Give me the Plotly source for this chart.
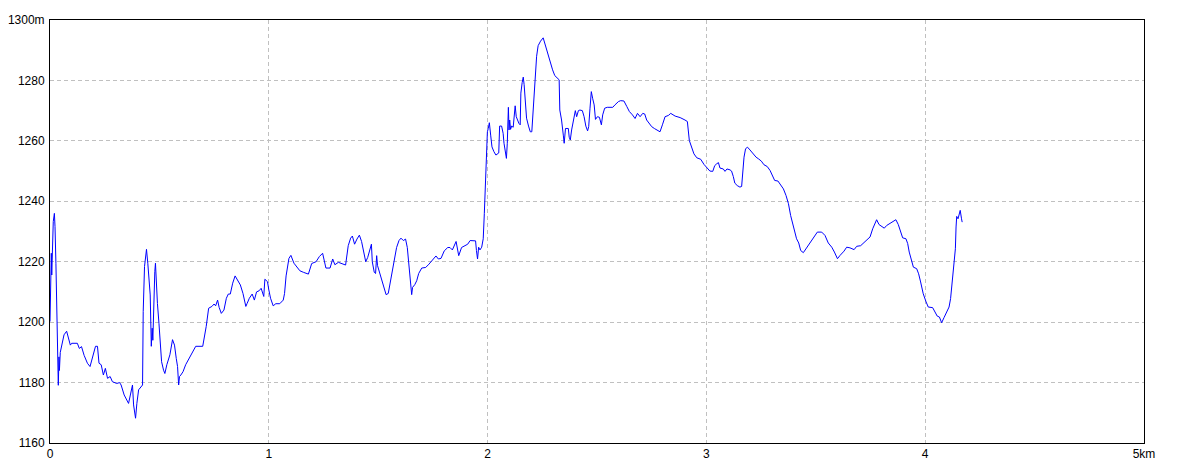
import plotly.graph_objects as go

# Distance (km) and elevation (m)
distance_km = [
    0.0, 0.003, 0.006, 0.008, 0.011, 0.015, 0.02, 0.023, 0.027, 0.032, 0.035, 0.038, 0.041, 0.043,
    0.047, 0.055, 0.064, 0.076, 0.084, 0.093, 0.099, 0.125, 0.134, 0.144, 0.156, 0.171, 0.183,
    0.198, 0.208, 0.217, 0.224, 0.234, 0.244, 0.253, 0.263, 0.275, 0.285, 0.305, 0.318, 0.325,
    0.339, 0.359, 0.374, 0.377, 0.382, 0.391, 0.397, 0.405, 0.423, 0.426, 0.432, 0.441, 0.447,
    0.453, 0.458, 0.463, 0.467, 0.47, 0.475, 0.479, 0.482, 0.487, 0.491, 0.498, 0.504, 0.51,
    0.519, 0.525, 0.534, 0.548, 0.56, 0.569, 0.577, 0.583, 0.588, 0.592, 0.598, 0.608, 0.62,
    0.635, 0.653, 0.666, 0.698, 0.705, 0.714, 0.725, 0.74, 0.75, 0.757, 0.766, 0.773, 0.783,
    0.795, 0.806, 0.815, 0.824, 0.835, 0.846, 0.861, 0.87, 0.882, 0.895, 0.901, 0.911, 0.924,
    0.934, 0.944, 0.956, 0.965, 0.974, 0.977, 0.982, 0.994, 1.0, 1.008, 1.02, 1.032, 1.05,
    1.066, 1.072, 1.079, 1.092, 1.101, 1.115, 1.142,
    1.158, 1.181, 1.196, 1.216, 1.231, 1.246, 1.261, 1.28, 1.292, 1.302, 1.318, 1.333, 1.351,
    1.363, 1.374, 1.382, 1.392, 1.403, 1.414, 1.424, 1.435, 1.443, 1.452, 1.463, 1.469, 1.473,
    1.482, 1.488, 1.493, 1.497, 1.508, 1.52, 1.536, 1.546, 1.557, 1.569, 1.584, 1.595, 1.604,
    1.615, 1.625, 1.633, 1.642, 1.648, 1.653, 1.657, 1.667, 1.676, 1.685, 1.699, 1.717, 1.732,
    1.749, 1.764, 1.775, 1.787, 1.802, 1.818, 1.828, 1.839, 1.856, 1.86, 1.868, 1.881, 1.897,
    1.909, 1.92,
    1.945, 1.949, 1.954, 1.959, 1.965, 1.973, 1.98, 1.985, 1.99, 1.994, 1.999, 2.003, 2.008,
    2.014, 2.02, 2.029, 2.038, 2.051, 2.055, 2.064, 2.071, 2.075, 2.081, 2.086, 2.09, 2.095,
    2.098, 2.101, 2.105, 2.11, 2.117, 2.122, 2.126, 2.131, 2.136, 2.143, 2.149, 2.152, 2.158,
    2.163, 2.167, 2.173, 2.178, 2.187, 2.195, 2.202, 2.207, 2.211, 2.219, 2.224, 2.231, 2.242,
    2.254, 2.263, 2.272, 2.284, 2.297, 2.307, 2.318, 2.327, 2.33, 2.338, 2.346, 2.35, 2.356,
    2.369, 2.373, 2.378, 2.384, 2.392, 2.401, 2.407, 2.415, 2.422, 2.433, 2.441, 2.449, 2.457,
    2.462, 2.468, 2.474, 2.48, 2.487, 2.493, 2.502, 2.511, 2.52, 2.526, 2.535, 2.547, 2.572,
    2.582, 2.598, 2.608, 2.623, 2.636, 2.648, 2.662, 2.674, 2.685, 2.697, 2.709, 2.718, 2.727,
    2.738, 2.75, 2.762, 2.776, 2.788, 2.799, 2.811, 2.826, 2.837, 2.857, 2.88, 2.902, 2.913,
    2.922, 2.933, 2.943, 2.956, 2.974, 2.989, 3.001, 3.016, 3.029, 3.038, 3.047, 3.055, 3.062,
    3.077, 3.085, 3.094, 3.108, 3.115, 3.123, 3.13, 3.141, 3.153, 3.161, 3.166, 3.172, 3.179,
    3.188, 3.199, 3.212, 3.227, 3.239, 3.251, 3.263, 3.278, 3.291, 3.303, 3.312, 3.327, 3.336,
    3.352, 3.364, 3.375, 3.385, 3.397, 3.406, 3.412, 3.422, 3.431, 3.443, 3.458, 3.473, 3.489,
    3.507, 3.527, 3.542, 3.557, 3.573, 3.585, 3.599, 3.611, 3.629, 3.641, 3.656, 3.675, 3.687,
    3.705, 3.725, 3.737, 3.748, 3.76, 3.778, 3.789, 3.801, 3.813, 3.824, 3.839, 3.854, 3.866,
    3.877, 3.887, 3.897, 3.912, 3.92, 3.927, 3.938, 3.946, 3.961, 3.97, 3.979, 3.991, 4.004,
    4.014, 4.034, 4.045, 4.055, 4.065, 4.075, 4.086, 4.098, 4.109, 4.116, 4.124, 4.132, 4.138,
    4.141, 4.144, 4.15, 4.156, 4.16, 4.166, 4.169,
]

elevation_m = [
    1200.2, 1215.6, 1222.8, 1215.6, 1228.3, 1233.3, 1236.0, 1231.6, 1219.5, 1205.0, 1188.5, 1179.1,
    1188.5, 1184.0, 1190.0, 1193.4, 1195.8, 1197.0, 1195.0, 1192.4, 1193.0, 1193.0, 1191.3,
    1191.9, 1189.0, 1186.4, 1185.3, 1189.2, 1192.0, 1192.0, 1186.4, 1185.9, 1182.5, 1184.7,
    1181.4, 1182.0, 1180.3, 1179.7, 1180.0, 1179.2, 1175.9, 1173.1, 1178.1, 1179.2, 1172.6,
    1168.2, 1173.1, 1177.6, 1179.2, 1203.5, 1218.4, 1224.1, 1219.5, 1213.4, 1209.0, 1192.0,
    1198.0, 1194.0, 1211.7, 1216.7, 1219.5, 1210.1, 1206.2, 1199.6, 1190.8, 1186.9, 1184.1,
    1183.0, 1185.9, 1189.2, 1194.2, 1192.4, 1188.0, 1185.3, 1179.2, 1182.0, 1182.5, 1183.6,
    1185.9, 1188.0, 1190.3, 1192.0, 1192.0, 1194.7, 1198.6, 1204.6, 1205.2, 1206.0, 1205.4,
    1207.3, 1204.9, 1202.9, 1204.0, 1207.9, 1209.3, 1209.3, 1212.9, 1215.3, 1213.6, 1212.3,
    1209.5, 1205.2, 1206.2, 1207.9, 1209.3, 1207.3, 1210.0, 1210.4, 1211.2, 1209.0, 1208.5,
    1214.2, 1213.4, 1210.7, 1207.9, 1205.4, 1206.1, 1206.1, 1207.3, 1209.5, 1215.3, 1221.1,
    1222.1, 1219.5, 1217.0,
    1216.5, 1215.9, 1219.4, 1220.0, 1221.7, 1222.8, 1217.9, 1217.9, 1220.9, 1219.0, 1219.8,
    1219.4, 1218.9, 1225.3, 1227.8, 1228.5, 1225.8, 1227.5, 1228.8, 1226.7, 1222.3, 1220.0,
    1221.4, 1224.7, 1225.8, 1220.0, 1216.5, 1216.1, 1222.0, 1218.7, 1216.1, 1213.2, 1209.1,
    1209.5, 1213.7, 1218.7, 1224.7, 1227.0, 1227.8, 1227.0, 1227.5, 1224.7, 1218.1, 1211.5,
    1209.1, 1211.5, 1212.4, 1213.7, 1216.1, 1217.9, 1218.1, 1219.2, 1220.7, 1221.9, 1220.9,
    1221.1, 1223.6, 1224.7, 1224.7, 1223.9, 1226.7, 1225.3, 1222.0, 1224.7, 1225.3, 1225.8,
    1227.0,
    1226.9, 1223.7, 1220.9, 1224.8, 1223.9, 1224.8, 1227.6, 1235.9, 1245.9, 1254.7, 1263.0,
    1264.1, 1266.0, 1261.9, 1258.0, 1256.4, 1255.3, 1256.0, 1264.9, 1264.9, 1262.5, 1259.2,
    1256.4, 1254.2, 1259.2, 1271.1, 1263.6, 1266.9, 1263.8, 1264.9, 1264.5, 1268.0, 1271.6,
    1268.0, 1266.9, 1265.8, 1265.3, 1275.8, 1279.3, 1281.1, 1278.6, 1273.0, 1267.5, 1264.9,
    1263.0, 1263.0, 1268.0, 1274.9, 1283.5, 1288.0, 1291.5, 1293.0, 1294.1, 1291.9, 1289.6,
    1286.3, 1283.5, 1281.6, 1280.8, 1280.2, 1270.2, 1266.9, 1261.9, 1259.2, 1264.1, 1264.1,
    1261.2, 1260.3, 1263.6, 1266.4, 1270.0, 1268.0, 1270.0, 1270.2, 1270.0, 1268.0, 1264.9,
    1263.3, 1264.7, 1270.8, 1276.3, 1274.1, 1271.9, 1267.1, 1268.0, 1267.8, 1265.3, 1268.6,
    1270.8, 1271.1, 1271.1, 1271.9, 1273.0, 1273.3, 1273.2, 1271.4, 1269.7, 1268.6, 1267.4,
    1269.1, 1268.0, 1269.1, 1268.9, 1266.9, 1265.8, 1264.7, 1264.1, 1263.6, 1263.0, 1265.3,
    1268.0, 1268.4, 1269.1, 1268.2, 1267.7, 1266.9, 1266.4,
    1260.1, 1257.4, 1255.7, 1254.4, 1253.9, 1252.2, 1251.1, 1250.0, 1249.9, 1251.8, 1252.4,
    1252.8, 1251.0, 1250.7, 1249.9, 1250.7, 1250.4, 1250.0, 1248.2, 1246.0, 1245.2, 1244.7,
    1244.9, 1251.3, 1254.6, 1257.4, 1257.9, 1257.0, 1255.7, 1254.6, 1254.0, 1253.3, 1252.1,
    1251.5, 1250.2, 1248.2, 1246.9, 1246.7, 1245.6, 1244.1, 1241.9, 1239.2, 1235.3, 1232.0,
    1229.3, 1227.6, 1226.2, 1223.7, 1223.0, 1224.6, 1226.5, 1228.2, 1229.8, 1229.8, 1228.7,
    1226.2, 1224.8, 1223.2, 1221.0, 1222.1, 1223.5, 1224.8, 1224.6, 1224.0, 1225.1, 1225.3,
    1226.5, 1227.3, 1228.2, 1230.9, 1233.9, 1232.3, 1231.7, 1231.1, 1232.0, 1232.6, 1233.3,
    1233.9, 1232.3, 1230.4, 1227.9, 1227.6, 1226.0, 1223.2, 1219.9, 1218.2, 1217.7, 1216.0,
    1213.3, 1209.4, 1206.7, 1205.0, 1204.8, 1203.4, 1202.0, 1201.7, 1199.8, 1201.5, 1203.4,
    1205.0, 1207.8, 1213.8, 1219.9, 1224.3, 1231.5, 1235.0, 1234.2, 1235.9, 1237.0, 1234.2,
    1233.1,
]

x_ticks = [0, 1, 2, 3, 4, 5]
x_tick_labels = ["0", "1", "2", "3", "4", "5km"]
y_ticks = [1160, 1180, 1200, 1220, 1240, 1260, 1280, 1300]
y_tick_labels = ["1160", "1180", "1200", "1220", "1240", "1260", "1280", "1300m"]

fig = go.Figure()
fig.add_trace(go.Scatter(
    x=distance_km, y=elevation_m, mode="lines",
    line=dict(color="#0000FF", width=1),
    hoverinfo="x+y", showlegend=False,
))

axis_common = dict(
    showline=True, mirror=True, linecolor="black", linewidth=1,
    showgrid=True, gridcolor="#C0C0C0", griddash="4px,3px", gridwidth=1,
    zeroline=False, ticks="", automargin=False,
    tickfont=dict(family="Liberation Sans", size=12, color="black"),
)

# The page body adds an 8px offset, so the figure is sized to fit the window
fig.update_layout(
    width=1176, height=465,
    margin=dict(l=42, r=40, t=12, b=30, autoexpand=False),
    paper_bgcolor="white", plot_bgcolor="white",
    xaxis=dict(range=[0, 5], tickvals=x_ticks, ticktext=x_tick_labels,
               ticklabelstandoff=0, **axis_common),
    yaxis=dict(range=[1160, 1300], tickvals=y_ticks, ticktext=y_tick_labels,
               ticklabelstandoff=2, **axis_common),
)

fig.write_html("out.html")
